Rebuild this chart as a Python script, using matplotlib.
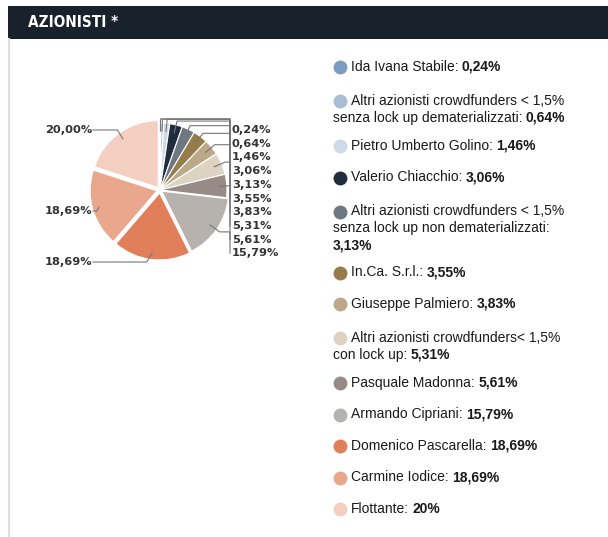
import numpy as np
import matplotlib
matplotlib.use("Agg")
import matplotlib.pyplot as plt
from matplotlib.patches import Rectangle

# data
names = ["Ida Ivana Stabile",
         "Altri azionisti crowdfunders < 1,5%\nsenza lock up dematerializzati",
         "Pietro Umberto Golino",
         "Valerio Chiacchio",
         "Altri azionisti crowdfunders < 1,5%\nsenza lock up non dematerializzati",
         "In.Ca. S.r.l.",
         "Giuseppe Palmiero",
         "Altri azionisti crowdfunders< 1,5%\ncon lock up",
         "Pasquale Madonna",
         "Armando Cipriani",
         "Domenico Pascarella",
         "Carmine Iodice",
         "Flottante"]
values = [0.24, 0.64, 1.46, 3.06, 3.13, 3.55, 3.83, 5.31, 5.61, 15.79, 18.69, 18.69, 20.00]
legend_values = ["0,24%", "0,64%", "1,46%", "3,06%", "3,13%", "3,55%", "3,83%",
                 "5,31%", "5,61%", "15,79%", "18,69%", "18,69%", "20%"]
colors = ["#7b9cc0", "#a9bdd3", "#cfdae6", "#1f2d3d", "#6f7780", "#967c4a", "#bca98a",
          "#dcd3c3", "#978b88", "#b8b2ae", "#e07f5a", "#e9a78e", "#f3cfc2"]
explode_big = [0, 0, 0, 0, 0, 0, 0, 0, 0, 2, 3, 3, 3]

W, H = 608, 537
fig = plt.figure(figsize=(W / 100, H / 100), dpi=100)
ax = fig.add_axes([0, 0, 1, 1])
ax.set_xlim(0, W)
ax.set_ylim(0, H)

def Y(y):
    return H - y

# header + left border
ax.add_patch(Rectangle((8, Y(39)), W - 8, 33, color="#18212c", lw=0))
ax.text(28, Y(22.5), "AZIONISTI *", color="white", fontsize=11, fontweight="bold",
        fontstretch="condensed", va="center", ha="left", family="DejaVu Sans")
ax.plot([8.5, 8.5], [Y(39), 0], color="#dedede", lw=1.5)

# pie
cx, cy, R = 160, Y(190), 67
wedges, _ = ax.pie(values, colors=colors, center=(cx, cy), radius=R, startangle=90,
                   counterclock=False, explode=explode_big, frame=True,
                   wedgeprops=dict(edgecolor="white", linewidth=0.8))
ax.set_xlim(0, W)
ax.set_ylim(0, H)
ax.set_aspect("auto")
ax.axis("off")

cum = np.cumsum([0] + values[:-1])
mids = np.deg2rad(90 - 3.6 * (cum + np.array(values) / 2))

lab_font = dict(fontsize=8.2, fontweight="bold", color="#333333", family="DejaVu Sans")
line_kw = dict(color="#777777", lw=0.8)

def pct(v):
    return f"{v:.2f}".replace(".", ",") + "%"

# right side labels
xv = 230
for i in range(10):
    a = mids[i]
    ox = explode_big[i] * np.cos(a)
    oy = explode_big[i] * np.sin(a)
    x0, y0 = cx + ox + 0.88 * R * np.cos(a), cy + oy + 0.88 * R * np.sin(a)
    x1, y1 = cx + ox + 1.06 * R * np.cos(a), cy + oy + 1.06 * R * np.sin(a)
    ly = Y(130 + i * 13.7)
    ax.plot([x0, x1, xv, xv], [y0, y1, y1, ly], **line_kw)
    ax.text(xv + 2, ly, pct(values[i]), ha="left", va="center", **lab_font)

# left side labels
left_y = {10: 262, 11: 211, 12: 130}
for i, ypx in left_y.items():
    a = mids[i]
    ox = explode_big[i] * np.cos(a)
    oy = explode_big[i] * np.sin(a)
    x0, y0 = cx + ox + 0.9 * R * np.cos(a), cy + oy + 0.9 * R * np.sin(a)
    ly = Y(ypx)
    ex = x0 - 0.6 * abs(ly - y0)
    ax.plot([x0, ex, 93], [y0, ly, ly], **line_kw)
    ax.text(92, ly, pct(values[i]), ha="right", va="center", **lab_font)

# legend
leg_font = dict(fontsize=10, color="#1a1a1a", family="Liberation Sans")
renderer = fig.canvas.get_renderer()
top = 67
for name, val, col in zip(names, legend_values, colors):
    lines = (name + ":").split("\n")
    bold_new_line = "non dematerializzati" in name
    n = len(lines) + (1 if bold_new_line else 0)
    y = top + (2.5 if n > 1 else 0)
    ax.scatter([340], [Y(y)], s=100, color=col, lw=0, zorder=3)
    for j, ln in enumerate(lines):
        x = 351 if j == 0 else 333
        t = ax.text(x, Y(y + 17 * j) - 3.6, ln, ha="left", va="baseline", **leg_font)
    if bold_new_line:
        ax.text(333, Y(y + 17 * len(lines)) - 3.6, val, ha="left", va="baseline",
                fontweight="bold", **leg_font)
    else:
        bb = t.get_window_extent(renderer)
        ax.text(bb.x1 + 3.5, Y(y + 17 * (len(lines) - 1)) - 3.6, val, ha="left",
                va="baseline", fontweight="bold", **leg_font)
    top += 31.5 + 16 * (n - 1)

fig.savefig("out.png", dpi=100, facecolor="white")
